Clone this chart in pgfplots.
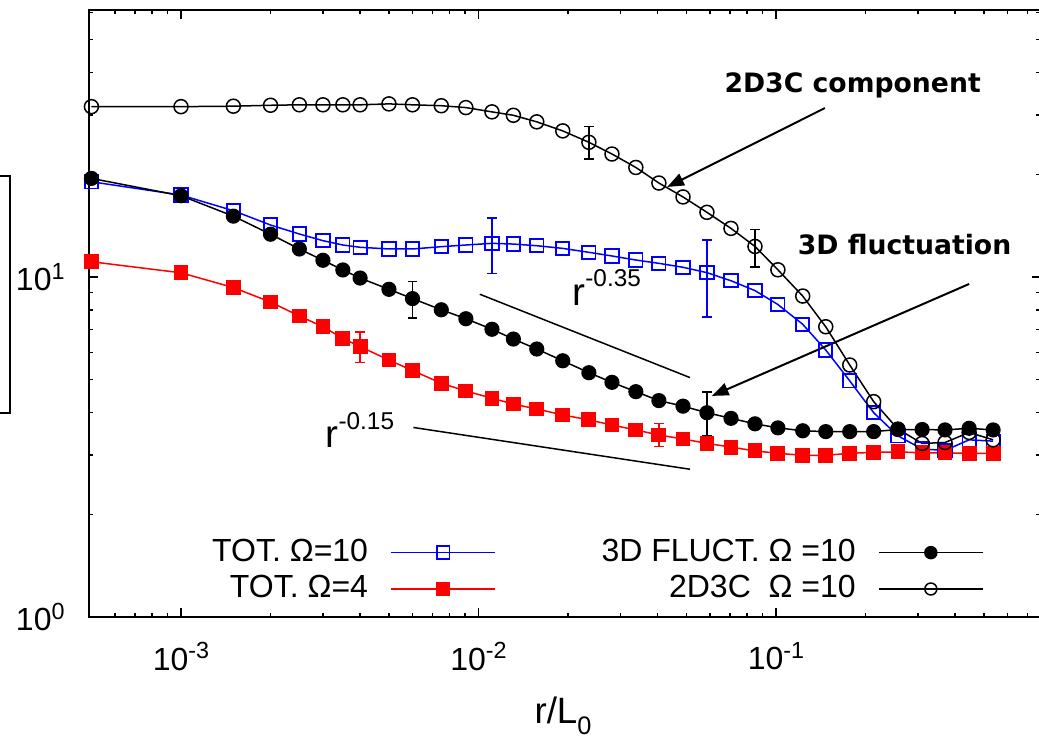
\documentclass[border=0pt]{standalone}
\usepackage{fontspec}
\setmainfont{Liberation Sans}
\newfontfamily\dejavu{DejaVu Sans}
\usepackage{pgfplots}
\usepackage{pgfplotstable}
\pgfplotsset{compat=1.18}
\usetikzlibrary{arrows.meta}

\newcommand{\ten}[1]{10\raisebox{3.5pt}{\fontsize{7}{8}\selectfont #1}}

\pgfplotstableread{
x       tot10  fluct  tot4   ctwo
5e-4    19.06  19.5   11.09  31.7
1e-3    17.42  17.34  10.29  31.7
1.5e-3  15.67  15.10  9.31   31.8
2e-3    14.22  13.36  8.44   32.0
2.5e-3  13.38  12.09  7.68   32.1
3e-3    12.79  11.20  7.14   32.1
3.5e-3  12.42  10.49  6.60   32.1
4e-3    12.23  9.93   6.24   32.1
5e-3    12.09  9.20   5.70   32.3
6e-3    12.09  8.64   5.31   32.1
7.5e-3  12.28  8.01   4.87   31.9
9.07e-3 12.42  7.54   4.62   31.5
0.0111  12.56  7.02   4.40   30.6
0.0131  12.50  6.57   4.23   29.9
0.0157  12.36  6.14   4.09   28.6
0.0192  12.14  5.67   3.93   26.9
0.0235  11.82  5.23   3.80   24.9
0.0281  11.53  4.90   3.67   23.0
0.0338  11.22  4.60   3.55   21.0
0.0404  10.97  4.33   3.43   18.9
0.0487  10.68  4.17   3.34   17.2
0.0586  10.30  3.99   3.24   15.5
0.0706  9.75   3.84   3.16   13.9
0.085   9.12   3.70   3.08   12.3
0.1015  8.30   3.60   3.03   10.5
0.123   7.26   3.53   2.99   8.79
0.147   6.10   3.51   2.99   7.14
0.177   4.95   3.51   3.03   5.51
0.213   3.99   3.51   3.05   4.30
0.257   3.41   3.56   3.06   3.57
0.310   3.12   3.56   3.04   3.24
0.370   3.09   3.55   3.04   3.26
0.446   3.32   3.59   3.03   3.49
0.537   3.29   3.55   3.03   3.32
}\datatable

\begin{document}
\begin{tikzpicture}
\begin{axis}[
  at={(0pt,0pt)}, anchor=south west,
  scale only axis, width=285.6pt, height=182.1pt,
  xmode=log, ymode=log,
  xmin=4.906e-4, xmax=0.7777, ymin=1, ymax=61,
  axis line style={line width=0.6pt},
  tick align=inside,
  major tick length=2.7pt, minor tick length=1.35pt,
  every tick/.style={black, line width=0.45pt},
  xtick={1e-3,1e-2,1e-1}, xticklabels={\ten{-3},\ten{-2},\ten{-1}},
  minor xtick={6e-4,7e-4,8e-4,9e-4,2e-3,3e-3,4e-3,5e-3,6e-3,7e-3,8e-3,9e-3,2e-2,3e-2,4e-2,5e-2,6e-2,7e-2,8e-2,9e-2,0.2,0.3,0.4,0.5,0.6,0.7},
  ytick={1,10}, yticklabels={\ten{0},\ten{1}},
  minor ytick={2,3,4,5,6,7,8,9,20,30,40,50,60},
  tick label style={font=\fontsize{9.6}{10}\selectfont},
  xticklabel style={yshift=-4pt},
  yticklabel style={xshift=-3.8pt},
  legend image code/.code={\path (0pt,0pt); \draw[mark repeat=2,mark phase=2,#1] plot coordinates {(4.8pt,0pt)(20.3pt,0pt)(35.8pt,0pt)};},
  legend plot pos=right,
  legend cell align=right,
  legend style={draw=none, fill=none, at={(0.9506,0.1516)}, anchor=north east,
    legend columns=2, font=\fontsize{9.6}{10}\selectfont,
    /tikz/every even column/.append style={column sep=29.8pt},
    row sep=-1.3pt},
  error bars/error mark=|,
]
% error bars
\addplot[forget plot, draw=none, mark=none,
  error bars/.cd, y dir=both, y explicit,
  error bar style={draw=black, line width=0.5pt, solid},
  error mark options={draw=black, mark size=1.45pt, line width=0.5pt}]
  coordinates {(0.0235,24.9) += (0,2.8) -= (0,2.7)
               (0.085,12.3) += (0,1.5) -= (0,1.62)
               (6e-3,8.64) += (0,1.05) -= (0,1.08)
               (0.0586,3.99) += (0,0.61) -= (0,0.58)};
\addplot[forget plot, draw=none, mark=none,
  error bars/.cd, y dir=both, y explicit,
  error bar style={draw=blue, line width=0.5pt, solid},
  error mark options={draw=blue, mark size=1.45pt, line width=0.5pt}]
  coordinates {(0.0111,12.56) += (0,2.32) -= (0,2.31)
               (0.0586,10.30) += (0,2.55) -= (0,2.66)};
\addplot[forget plot, draw=none, mark=none,
  error bars/.cd, y dir=both, y explicit,
  error bar style={draw=red, line width=0.5pt, solid},
  error mark options={draw=red, mark size=1.45pt, line width=0.5pt}]
  coordinates {(4e-3,6.24) += (0,0.64) -= (0,0.64)
               (0.0404,3.43) += (0,0.28) -= (0,0.26)};
% series
\addplot[forget plot, blue, line width=0.45pt, mark=square, mark size=2pt, mark options={solid, line width=0.55pt}] table[x=x, y=tot10] {\datatable};
\addplot[forget plot, red, line width=0.45pt, mark=square*, mark size=2pt, mark options={solid, fill=red}] table[x=x, y=tot4] {\datatable};
\addplot[forget plot, black, line width=0.45pt, mark=*, mark size=2.05pt, mark options={solid, fill=black}] table[x=x, y=fluct] {\datatable};
\addplot[forget plot, black, line width=0.45pt, mark=o, mark size=2.1pt, mark options={solid, fill=white, line width=0.45pt}] table[x=x, y=ctwo] {\datatable};
% legend
\addlegendimage{blue, line width=0.45pt, mark=square, mark size=1.9pt, mark options={solid, line width=0.5pt}}
\addlegendentry{TOT. Ω=10}
\addlegendimage{black, line width=0.45pt, mark=*, mark size=1.8pt, mark options={solid, fill=black}}
\addlegendentry{3D FLUCT. Ω =10}
\addlegendimage{red, line width=0.45pt, mark=square*, mark size=1.9pt, mark options={solid, fill=red}}
\addlegendentry{TOT. Ω=4}
\addlegendimage{black, line width=0.45pt, mark=o, mark size=1.8pt, mark options={solid, fill=white}}
\addlegendentry{2D3C\ \ Ω =10}
% annotations
\draw[black, line width=0.45pt] (0.0101,8.90) -- (0.0514,5.06);
\draw[black, line width=0.45pt] (6.04e-3,3.61) -- (0.0514,2.72);
\draw[black, line width=0.6pt, -{Triangle[length=5pt,width=3.8pt]}] (0.146,31.4) -- (0.0431,18.4);
\draw[black, line width=0.6pt, -{Triangle[length=5pt,width=3.8pt]}] (0.446,9.54) -- (0.0609,4.47);
\node[anchor=base west, inner sep=0pt, font=\fontsize{11.6}{12}\selectfont] at (0.0206,8.27) {r\raisebox{5.5pt}{\fontsize{7.3}{8}\selectfont -0.35}};
\node[anchor=base west, inner sep=0pt, font=\fontsize{11.6}{12}\selectfont] at (3.05e-3,3.16) {r\raisebox{5.2pt}{\fontsize{7.3}{8}\selectfont -0.15}};
\node[anchor=west, inner sep=0pt, font=\dejavu\bfseries\fontsize{8}{9}\selectfont] at (0.0668,36.7) {2D3C component};
\node[anchor=west, inner sep=0pt, font=\dejavu\bfseries\fontsize{8}{9}\selectfont] at (0.1178,12.42) {3D fluctuation};
\end{axis}
\draw[line width=0.45pt] (-40pt,61.2pt) rectangle (-23.7pt,132.3pt);
\node[anchor=base, inner sep=0pt, font=\fontsize{11}{12}\selectfont] at (142.2pt,-31.8pt) {r/L\raisebox{-3.3pt}{\fontsize{7.6}{8}\selectfont 0}};
\pgfresetboundingbox
\useasboundingbox (-26.7pt,-35.4pt) rectangle (285pt,185.1pt);
\end{tikzpicture}
\end{document}
